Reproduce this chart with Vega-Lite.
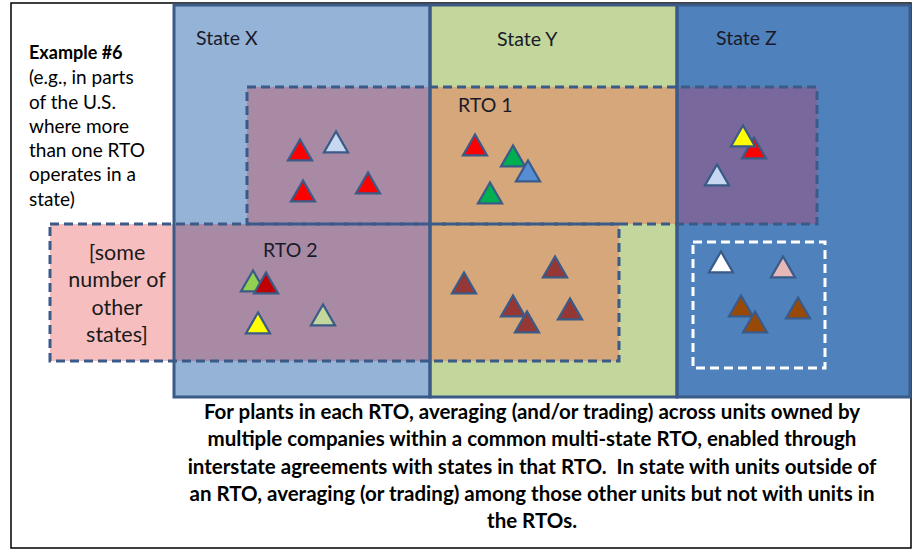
{
  "$schema": "https://vega.github.io/schema/vega-lite/v6.json",
  "width": 914,
  "height": 550,
  "autosize": {"type": "fit", "contains": "padding"},
  "padding": 0,
  "background": "white",
  "config": {"view": {"stroke": null}},
  "datasets": {
    "frame": [{"x": 11, "x2": 911, "y": 3, "y2": 548}],
    "states": [
      {"state": "X", "x": 174, "x2": 430, "y": 5, "y2": 397},
      {"state": "Y", "x": 430, "x2": 677, "y": 5, "y2": 397},
      {"state": "Z", "x": 677, "x2": 910, "y": 5, "y2": 397}
    ],
    "pieces": [
      {"part": "RTO over X", "x": 247, "x2": 430, "y": 87, "y2": 224},
      {"part": "RTO over Y", "x": 430, "x2": 677, "y": 87, "y2": 224},
      {"part": "RTO over Z", "x": 677, "x2": 817, "y": 87, "y2": 224},
      {"part": "RTO outside", "x": 50, "x2": 174, "y": 224, "y2": 361},
      {"part": "RTO over X", "x": 174, "x2": 430, "y": 224, "y2": 361},
      {"part": "RTO over Y", "x": 430, "x2": 619, "y": 224, "y2": 361}
    ],
    "rtos": [
      {"rto": "RTO 1", "x": 247, "x2": 817, "y": 87, "y2": 224},
      {"rto": "RTO 2", "x": 50, "x2": 619, "y": 224, "y2": 361}
    ],
    "nonrto": [{"group": "Z outside RTO", "x": 693, "x2": 825, "y": 242, "y2": 368}],
    "units": [
      {"kind": "red", "x": 300, "y": 150},
      {"kind": "paleblue", "x": 336, "y": 142},
      {"kind": "red", "x": 303, "y": 191},
      {"kind": "red", "x": 368, "y": 183},
      {"kind": "lightgreen", "x": 253, "y": 281},
      {"kind": "darkred", "x": 266, "y": 283},
      {"kind": "yellow", "x": 258, "y": 323},
      {"kind": "sage", "x": 323, "y": 315},
      {"kind": "red", "x": 475, "y": 145},
      {"kind": "green", "x": 513, "y": 156},
      {"kind": "blue", "x": 528, "y": 171},
      {"kind": "green", "x": 490, "y": 193},
      {"kind": "red", "x": 754, "y": 148},
      {"kind": "yellow", "x": 743, "y": 136},
      {"kind": "paleblue", "x": 717, "y": 175},
      {"kind": "rust", "x": 464, "y": 283},
      {"kind": "rust", "x": 555, "y": 267},
      {"kind": "rust", "x": 513, "y": 306},
      {"kind": "rust", "x": 527, "y": 322},
      {"kind": "rust", "x": 570, "y": 309},
      {"kind": "white", "x": 721, "y": 262},
      {"kind": "pink", "x": 783, "y": 267},
      {"kind": "brown", "x": 741, "y": 306},
      {"kind": "brown", "x": 755, "y": 322},
      {"kind": "brown", "x": 798, "y": 308}
    ],
    "stateLabels": [
      {"t": "State X", "x": 196, "y": 45},
      {"t": "State Y", "x": 497, "y": 46},
      {"t": "State Z", "x": 716, "y": 45},
      {"t": "RTO 1", "x": 458, "y": 112},
      {"t": "RTO 2", "x": 263, "y": 257}
    ],
    "leftBold": [{"t": "Example #6", "x": 29, "y": 59}],
    "leftText": [
      {"t": "(e.g., in parts", "x": 29, "y": 84},
      {"t": "of the U.S.", "x": 29, "y": 109},
      {"t": "where more", "x": 29, "y": 133},
      {"t": "than one RTO", "x": 29, "y": 157},
      {"t": "operates in a", "x": 29, "y": 181},
      {"t": "state)", "x": 29, "y": 206}
    ],
    "otherStates": [
      {"t": "[some", "x": 117, "y": 260},
      {"t": "number of", "x": 117, "y": 287},
      {"t": "other", "x": 117, "y": 315},
      {"t": "states]", "x": 117, "y": 342}
    ],
    "caption": [
      {"t": "For plants in each RTO, averaging (and/or trading) across units owned by", "x": 532, "y": 419},
      {"t": "multiple companies within a common multi-state RTO, enabled through", "x": 532, "y": 446},
      {"t": "interstate agreements with states in that RTO.\u00a0 In state with units outside of", "x": 532, "y": 474},
      {"t": "an RTO, averaging (or trading) among those other units but not with units in", "x": 532, "y": 501},
      {"t": "the RTOs.", "x": 532, "y": 528}
    ]
  },
  "layer": [
    {
      "data": {"name": "frame"},
      "mark": {"type": "rect", "fill": "white", "stroke": "black", "strokeWidth": 1.5},
      "encoding": {
        "x": {"field": "x", "type": "quantitative", "scale": {"domain": [0, 914]}, "axis": null},
        "x2": {"field": "x2"},
        "y": {"field": "y", "type": "quantitative", "scale": {"domain": [0, 550], "reverse": true}, "axis": null},
        "y2": {"field": "y2"}
      }
    },
    {
      "data": {"name": "states"},
      "mark": {"type": "rect", "strokeWidth": 0},
      "encoding": {
        "x": {"field": "x", "type": "quantitative", "scale": {"domain": [0, 914]}, "axis": null},
        "x2": {"field": "x2"},
        "y": {"field": "y", "type": "quantitative", "scale": {"domain": [0, 550], "reverse": true}, "axis": null},
        "y2": {"field": "y2"},
        "color": {"field": "state", "type": "nominal", "legend": null,
          "scale": {"domain": ["X", "Y", "Z"], "range": ["#95B3D7", "#C3D69B", "#4F81BD"]}},
        "opacity": {"value": 1}
      }
    },
    {
      "data": {"name": "pieces"},
      "mark": {"type": "rect", "strokeWidth": 0},
      "encoding": {
        "x": {"field": "x", "type": "quantitative", "scale": {"domain": [0, 914]}, "axis": null},
        "x2": {"field": "x2"},
        "y": {"field": "y", "type": "quantitative", "scale": {"domain": [0, 550], "reverse": true}, "axis": null},
        "y2": {"field": "y2"},
        "color": {"field": "part", "type": "nominal", "legend": null,
          "scale": {"domain": ["RTO over X", "RTO over Y", "RTO over Z", "RTO outside"],
                    "range": ["#A88AA5", "#D5A77A", "#78689B", "#F7BEBF"]}},
        "opacity": {"value": 1}
      }
    },
    {
      "data": {"name": "states"},
      "mark": {"type": "rect", "fill": null, "fillOpacity": 0, "stroke": "#3A5A88", "strokeWidth": 3},
      "encoding": {
        "x": {"field": "x", "type": "quantitative", "scale": {"domain": [0, 914]}, "axis": null},
        "x2": {"field": "x2"},
        "y": {"field": "y", "type": "quantitative", "scale": {"domain": [0, 550], "reverse": true}, "axis": null},
        "y2": {"field": "y2"}
      }
    },
    {
      "data": {"name": "rtos"},
      "mark": {"type": "rect", "fill": null, "fillOpacity": 0, "stroke": "#3A5A88", "strokeWidth": 3, "strokeDash": [9, 5]},
      "encoding": {
        "x": {"field": "x", "type": "quantitative", "scale": {"domain": [0, 914]}, "axis": null},
        "x2": {"field": "x2"},
        "y": {"field": "y", "type": "quantitative", "scale": {"domain": [0, 550], "reverse": true}, "axis": null},
        "y2": {"field": "y2"}
      }
    },
    {
      "data": {"name": "nonrto"},
      "mark": {"type": "rect", "fill": null, "fillOpacity": 0, "stroke": "white", "strokeWidth": 3, "strokeDash": [9, 5]},
      "encoding": {
        "x": {"field": "x", "type": "quantitative", "scale": {"domain": [0, 914]}, "axis": null},
        "x2": {"field": "x2"},
        "y": {"field": "y", "type": "quantitative", "scale": {"domain": [0, 550], "reverse": true}, "axis": null},
        "y2": {"field": "y2"}
      }
    },
    {
      "data": {"name": "units"},
      "mark": {"type": "point", "shape": "triangle-up", "filled": true, "size": 580, "stroke": "#3A5A88", "strokeWidth": 2.2, "opacity": 1},
      "encoding": {
        "x": {"field": "x", "type": "quantitative", "scale": {"domain": [0, 914]}, "axis": null},
        "y": {"field": "y", "type": "quantitative", "scale": {"domain": [0, 550], "reverse": true}, "axis": null},
        "fill": {"field": "kind", "type": "nominal", "legend": null,
          "scale": {"domain": ["red", "paleblue", "lightgreen", "darkred", "yellow", "sage", "green", "blue", "rust", "white", "pink", "brown"],
                    "range": ["#FF0000", "#C6D9F1", "#92D050", "#C00000", "#FFFF00", "#C3D69B", "#00B050", "#558ED5", "#953735", "#FFFFFF", "#E6B9B8", "#984807"]}}
      }
    },
    {
      "data": {"name": "stateLabels"},
      "mark": {"type": "text", "align": "left", "baseline": "alphabetic", "font": "Lato", "fontSize": 19.5, "color": "#1a1a2a"},
      "encoding": {
        "x": {"field": "x", "type": "quantitative", "scale": {"domain": [0, 914]}, "axis": null},
        "y": {"field": "y", "type": "quantitative", "scale": {"domain": [0, 550], "reverse": true}, "axis": null},
        "text": {"field": "t", "type": "nominal"}
      }
    },
    {
      "data": {"name": "leftBold"},
      "mark": {"type": "text", "align": "left", "baseline": "alphabetic", "font": "Lato", "fontSize": 18, "fontWeight": "bold", "color": "black"},
      "encoding": {
        "x": {"field": "x", "type": "quantitative", "scale": {"domain": [0, 914]}, "axis": null},
        "y": {"field": "y", "type": "quantitative", "scale": {"domain": [0, 550], "reverse": true}, "axis": null},
        "text": {"field": "t", "type": "nominal"}
      }
    },
    {
      "data": {"name": "leftText"},
      "mark": {"type": "text", "align": "left", "baseline": "alphabetic", "font": "Lato", "fontSize": 19, "color": "black"},
      "encoding": {
        "x": {"field": "x", "type": "quantitative", "scale": {"domain": [0, 914]}, "axis": null},
        "y": {"field": "y", "type": "quantitative", "scale": {"domain": [0, 550], "reverse": true}, "axis": null},
        "text": {"field": "t", "type": "nominal"}
      }
    },
    {
      "data": {"name": "otherStates"},
      "mark": {"type": "text", "align": "center", "baseline": "alphabetic", "font": "Lato", "fontSize": 21.5, "color": "#1a1a1a"},
      "encoding": {
        "x": {"field": "x", "type": "quantitative", "scale": {"domain": [0, 914]}, "axis": null},
        "y": {"field": "y", "type": "quantitative", "scale": {"domain": [0, 550], "reverse": true}, "axis": null},
        "text": {"field": "t", "type": "nominal"}
      }
    },
    {
      "data": {"name": "caption"},
      "mark": {"type": "text", "align": "center", "baseline": "alphabetic", "font": "Lato", "fontSize": 20.5, "fontWeight": "bold", "color": "black"},
      "encoding": {
        "x": {"field": "x", "type": "quantitative", "scale": {"domain": [0, 914]}, "axis": null},
        "y": {"field": "y", "type": "quantitative", "scale": {"domain": [0, 550], "reverse": true}, "axis": null},
        "text": {"field": "t", "type": "nominal"}
      }
    }
  ],
  "resolve": {"scale": {"color": "independent", "fill": "independent"}}
}
